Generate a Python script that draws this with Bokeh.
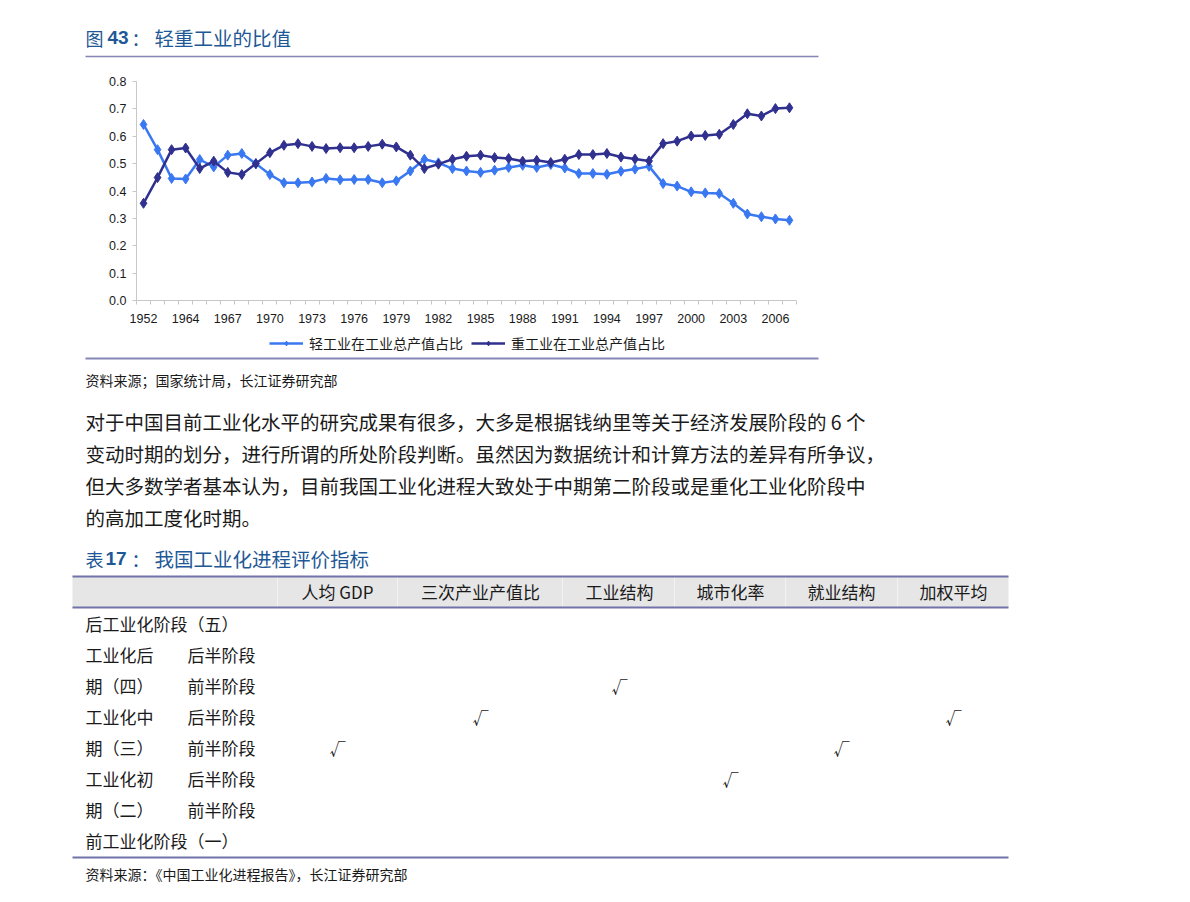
from bokeh.plotting import figure
from bokeh.models import (ColumnDataSource, Range1d, FixedTicker, Legend, LegendItem,
                          PrintfTickFormatter)
from bokeh.layouts import column
from bokeh.embed import file_html
from bokeh.resources import INLINE
from bokeh.core.properties import value

# ---------------- data ----------------
years = ["1952", "1957", "1962"] + [str(y) for y in range(1964, 2008)]
light_share = [0.643, 0.551, 0.446, 0.444, 0.515, 0.488, 0.531, 0.537, 0.500, 0.460,
               0.430, 0.430, 0.433, 0.446, 0.441, 0.442, 0.442, 0.430, 0.437, 0.473,
               0.516, 0.503, 0.482, 0.473, 0.468, 0.476, 0.486, 0.494, 0.486, 0.497,
               0.484, 0.464, 0.464, 0.461, 0.472, 0.480, 0.490, 0.427, 0.418, 0.397,
               0.393, 0.391, 0.355, 0.316, 0.306, 0.298, 0.293]
heavy_share = [0.355, 0.449, 0.551, 0.557, 0.482, 0.509, 0.468, 0.460, 0.500, 0.540,
               0.567, 0.573, 0.563, 0.555, 0.558, 0.558, 0.563, 0.571, 0.561, 0.531,
               0.482, 0.498, 0.516, 0.527, 0.531, 0.522, 0.519, 0.509, 0.512, 0.504,
               0.516, 0.533, 0.533, 0.537, 0.524, 0.517, 0.510, 0.573, 0.582, 0.601,
               0.603, 0.607, 0.643, 0.682, 0.674, 0.701, 0.704]
series_names = ["轻工业在工业总产值占比", "重工业在工业总产值占比"]
y_ticks = [0.0, 0.1, 0.2, 0.3, 0.4, 0.5, 0.6, 0.7, 0.8]

fig_title_no = "43"
fig_title = "轻重工业的比值"
fig_source = "资料来源；国家统计局，长江证券研究部"

paragraph_lines = [
    "对于中国目前工业化水平的研究成果有很多，大多是根据钱纳里等关于经济发展阶段的 6 个",
    "变动时期的划分，进行所谓的所处阶段判断。虽然因为数据统计和计算方法的差异有所争议，",
    "但大多数学者基本认为，目前我国工业化进程大致处于中期第二阶段或是重化工业化阶段中",
    "的高加工度化时期。",
]

table_no = "17"
table_title = "我国工业化进程评价指标"
table_columns = ["人均 GDP", "三次产业产值比", "工业结构", "城市化率", "就业结构", "加权平均"]
row_stage = ["后工业化阶段（五）", "工业化后", "期（四）", "工业化中", "期（三）",
             "工业化初", "期（二）", "前工业化阶段（一）"]
row_half = ["", "后半阶段", "前半阶段", "后半阶段", "前半阶段", "后半阶段", "前半阶段", ""]
# which columns are ticked in each row
row_checks = [[], [], ["工业结构"], ["三次产业产值比", "加权平均"], ["人均 GDP", "就业结构"],
              ["城市化率"], [], []]
table_source = "资料来源：《中国工业化进程报告》，长江证券研究部"

# ---------------- styles ----------------
CJK = "Noto Sans CJK SC"
LAT = "Liberation Sans"
BLUE_TITLE = "#1E5896"
RULE = "#8585B6"
TABLE_RULE = "#7272AA"
LIGHT_C = "#3A78F2"
HEAVY_C = "#30308F"
TXT = "#1a1a1a"
W = 1190


def blank_fig(h, y_top, y_bottom):
    f = figure(width=W, height=h, x_range=Range1d(0, W), y_range=Range1d(y_bottom, y_top),
               output_backend="svg", toolbar_location=None, x_axis_type=None,
               y_axis_type=None, min_border=0, outline_line_color=None, frame_align=False)
    f.xgrid.visible = False
    f.ygrid.visible = False
    return f


def put_text(f, xs, ys, texts, size, color=TXT, font=CJK, align="left", style="normal"):
    src = ColumnDataSource(dict(x=xs, y=ys, text=texts))
    f.text(x="x", y="y", text="text", source=src, text_font=value(font),
           text_font_size=size, text_color=color, text_align=align,
           text_baseline="middle", text_font_style=style)


# ---------------- header figure (title) ----------------
top = blank_fig(62, 0, 62)
put_text(top, [85], [37], ["图"], "18px", BLUE_TITLE)
put_text(top, [107], [37], [fig_title_no], "19px", BLUE_TITLE, LAT, style="bold")
put_text(top, [131], [37], ["："], "18px", BLUE_TITLE)
put_text(top, [154], [37], [fig_title], "19.5px", BLUE_TITLE)
top.segment(x0=[85], y0=[56], x1=[818], y1=[56], line_color=RULE, line_width=1.5)

# ---------------- chart figure ----------------
xs = list(range(len(years)))
src = ColumnDataSource(dict(x=xs, year=years, light=light_share, heavy=heavy_share))

p = figure(width=W, height=268, x_range=Range1d(-0.5, len(years) - 0.5),
           y_range=Range1d(0, 0.8), output_backend="svg", toolbar_location=None,
           min_border_left=136, min_border_right=394, min_border_top=19,
           min_border_bottom=30, outline_line_color=None, frame_align=False)
p.xgrid.visible = False
p.ygrid.visible = False

p.line("x", "light", source=src, line_color=LIGHT_C, line_width=2.5)
p.scatter("x", "light", source=src, marker="diamond", size=10,
          fill_color=LIGHT_C, line_color=LIGHT_C)
p.line("x", "heavy", source=src, line_color=HEAVY_C, line_width=2.5)
p.scatter("x", "heavy", source=src, marker="diamond", size=10,
          fill_color=HEAVY_C, line_color=HEAVY_C)

xa = p.xaxis[0]
label_idx = list(range(0, len(years), 3))
xa.ticker = FixedTicker(ticks=label_idx, minor_ticks=[i - 0.5 for i in range(len(years) + 1)])
xa.major_label_overrides = {i: years[i] for i in label_idx}
xa.major_tick_out = 0
xa.major_tick_in = 0
xa.minor_tick_out = 4
xa.minor_tick_in = 0
xa.minor_tick_line_color = "#C8C8C8"
xa.axis_line_color = "#C8C8C8"
xa.major_label_text_font = LAT
xa.major_label_text_font_size = "12.5px"
xa.major_label_text_color = TXT
xa.major_label_standoff = 9

ya = p.yaxis[0]
ya.ticker = FixedTicker(ticks=y_ticks)
ya.formatter = PrintfTickFormatter(format="%.1f")
ya.major_tick_out = 4
ya.major_tick_in = 0
ya.minor_tick_out = 0
ya.minor_tick_in = 0
ya.major_tick_line_color = "#C8C8C8"
ya.axis_line_color = "#C8C8C8"
ya.major_label_text_font = LAT
ya.major_label_text_font_size = "12.5px"
ya.major_label_text_color = TXT
ya.major_label_standoff = 6

# ---------------- lower figure (legend, text + table) ----------------
LOW_TOP, LOW_BOTTOM = 330, 900
low = blank_fig(LOW_BOTTOM - LOW_TOP, LOW_TOP, LOW_BOTTOM)

# legend of the chart: key glyphs styled like the chart series (their single point lies off-canvas)
off = dict(x=[-1000], y=[-1000])
k1 = low.line(line_color=LIGHT_C, line_width=2.5, **off)
k1m = low.scatter(marker="diamond", size=10, fill_color=LIGHT_C, line_color=LIGHT_C, **off)
k2 = low.line(line_color=HEAVY_C, line_width=2.5, **off)
k2m = low.scatter(marker="diamond", size=10, fill_color=HEAVY_C, line_color=HEAVY_C, **off)
legend_h = 20
legend = Legend(items=[LegendItem(label=series_names[0], renderers=[k1, k1m]),
                       LegendItem(label=series_names[1], renderers=[k2, k2m])],
                orientation="horizontal",
                location=(269, (LOW_BOTTOM - LOW_TOP) - (343 - LOW_TOP) - legend_h // 2))
legend.glyph_width = 34
legend.glyph_height = 12
legend.label_height = legend_h
legend.label_standoff = 6
legend.spacing = 8
legend.padding = 0
legend.margin = 0
legend.border_line_color = None
legend.background_fill_alpha = 0
legend.label_text_font = CJK
legend.label_text_font_size = "14px"
legend.label_text_color = TXT
low.add_layout(legend, "center")

low.segment(x0=[85], y0=[358], x1=[818], y1=[358], line_color=RULE, line_width=2)
put_text(low, [85], [379], [fig_source], "14px")

put_text(low, [85] * len(paragraph_lines), [421 + 32 * i for i in range(len(paragraph_lines))],
         paragraph_lines, "19.5px")

put_text(low, [85], [558], ["表"], "18px", BLUE_TITLE)
put_text(low, [105], [558], [table_no], "19px", BLUE_TITLE, LAT, style="bold")
put_text(low, [131], [558], ["："], "18px", BLUE_TITLE)
put_text(low, [154], [558], [table_title], "19.5px", BLUE_TITLE)

# header band
low.quad(left=[72], right=[1008], top=[576], bottom=[607], fill_color="#E6E6E6", line_color=None)
sep_x = [277, 397, 562, 674, 785, 897]
low.segment(x0=sep_x, y0=[577] * 6, x1=sep_x, y1=[606] * 6, line_color="#F2F2F2", line_width=1)
low.segment(x0=[72, 72], y0=[576, 607], x1=[1008, 1008], y1=[576, 607],
            line_color=TABLE_RULE, line_width=2)
col_x = [337, 480, 619, 730, 841, 953]
put_text(low, col_x, [591] * 6, table_columns, "17px", align="center")

row_y = [623 + 31 * i for i in range(len(row_stage))]
put_text(low, [85] * len(row_stage), row_y, row_stage, "17px")
hx, hy, ht = [], [], []
for y, h in zip(row_y, row_half):
    if h:
        hx.append(187); hy.append(y); ht.append(h)
put_text(low, hx, hy, ht, "17px")

cx, cy, ct = [], [], []
for y, checks in zip(row_y, row_checks):
    for c in checks:
        cx.append(col_x[table_columns.index(c)]); cy.append(y); ct.append("√")
put_text(low, cx, cy, ct, "16px", align="center")

low.segment(x0=[72], y0=[857], x1=[1008], y1=[857], line_color=TABLE_RULE, line_width=2)
put_text(low, [85], [873], [table_source], "14px")

page = column(top, p, low, spacing=0)
open("out.html", "w").write(file_html(page, INLINE))
